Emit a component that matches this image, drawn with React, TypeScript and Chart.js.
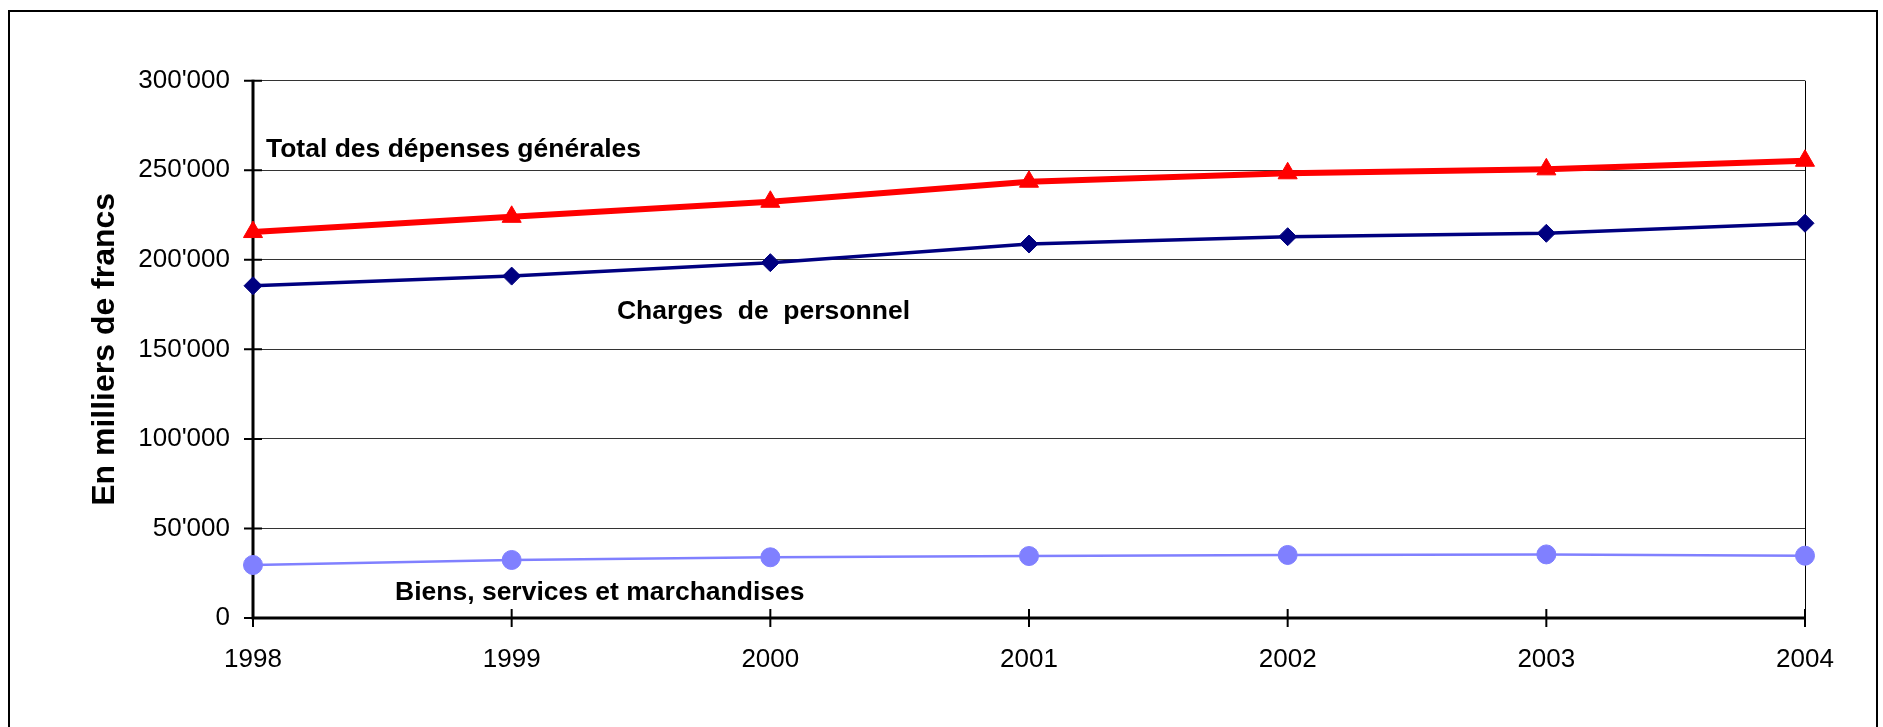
import React, { useEffect, useRef } from "react";
import { Chart, registerables } from "chart.js";

Chart.register(...registerables);

// ---- Data ----
const years = ["1998", "1999", "2000", "2001", "2002", "2003", "2004"];
const totalDepenses = [215500, 224000, 232400, 243600, 248300, 250500, 255300];
const chargesPersonnel = [185500, 190900, 198400, 208800, 212900, 214800, 220400];
const biensServices = [29600, 32400, 33900, 34600, 35200, 35500, 34800];
const yTickValues = [0, 50000, 100000, 150000, 200000, 250000, 300000];
const yAxisTitle = "En milliers de francs";
const seriesNames = ["Total des dépenses générales", "Charges  de  personnel", "Biens, services et marchandises"];
// anchors of the in-chart series labels, in data units (category index, value at baseline)
const labelAnchorX = [0.05, 1.407, 0.549];
const labelAnchorY = [257400, 166900, 10000];

const FONT = "'Liberation Sans', Arial, sans-serif";

const fmt = (v: number) => {
  const s = Math.round(v).toString();
  return s.replace(/\B(?=(\d{3})+(?!\d))/g, "'");
};

const decorPlugin = {
  id: "decor",
  beforeDraw(chart: any) {
    const { ctx } = chart;
    ctx.save();
    ctx.strokeStyle = "#000";
    ctx.lineWidth = 2;
    ctx.beginPath();
    ctx.moveTo(9, 800);
    ctx.lineTo(9, 11);
    ctx.lineTo(1877, 11);
    ctx.lineTo(1877, 800);
    ctx.stroke();
    ctx.restore();
  },
  beforeDatasetsDraw(chart: any) {
    const { ctx, chartArea: ca } = chart;
    const x = chart.scales.x;
    const y = chart.scales.y;
    ctx.save();
    ctx.strokeStyle = "#000";
    // right plot border
    ctx.lineWidth = 1;
    ctx.beginPath();
    ctx.moveTo(Math.round(ca.right) + 0.5, ca.top);
    ctx.lineTo(Math.round(ca.right) + 0.5, ca.bottom);
    ctx.stroke();
    // axes
    ctx.lineWidth = 3;
    ctx.beginPath();
    ctx.moveTo(ca.left, ca.top - 1);
    ctx.lineTo(ca.left, ca.bottom);
    ctx.lineTo(ca.right, ca.bottom);
    ctx.stroke();
    // cross ticks
    ctx.lineWidth = 2;
    ctx.beginPath();
    yTickValues.forEach((v) => {
      const py = y.getPixelForValue(v);
      ctx.moveTo(ca.left - 9, py);
      ctx.lineTo(ca.left + 9, py);
    });
    years.forEach((_, i) => {
      const px = x.getPixelForValue(i);
      ctx.moveTo(px, ca.bottom - 9);
      ctx.lineTo(px, ca.bottom + 9);
    });
    ctx.stroke();
    ctx.restore();
  },
  afterDatasetsDraw(chart: any) {
    const { ctx } = chart;
    const x = chart.scales.x;
    const y = chart.scales.y;
    ctx.save();
    ctx.fillStyle = "#000";
    ctx.font = `bold 26.5px ${FONT}`;
    ctx.textAlign = "left";
    ctx.textBaseline = "alphabetic";
    seriesNames.forEach((name, i) => {
      ctx.fillText(name, x.getPixelForValue(labelAnchorX[i]), y.getPixelForValue(labelAnchorY[i]));
    });
    ctx.restore();
  },
};

export default function App() {
  const ref = useRef<HTMLCanvasElement | null>(null);
  useEffect(() => {
    if (!ref.current) return;
    const chart = new Chart(ref.current, {
      type: "line",
      data: {
        labels: years,
        datasets: [
          {
            label: seriesNames[0],
            data: totalDepenses,
            borderColor: "#FF0000",
            backgroundColor: "#FF0000",
            borderWidth: 6,
            pointStyle: "triangle",
            pointRadius: 11,
            pointBorderWidth: 1,
            tension: 0,
            clip: false as any,
          },
          {
            label: seriesNames[1],
            data: chargesPersonnel,
            borderColor: "#000080",
            backgroundColor: "#000080",
            borderWidth: 3.5,
            pointStyle: "rectRot",
            pointRadius: 9,
            pointBorderWidth: 1,
            tension: 0,
            clip: false as any,
          },
          {
            label: seriesNames[2],
            data: biensServices,
            borderColor: "#8080FF",
            backgroundColor: "#8080FF",
            borderWidth: 2.5,
            pointStyle: "circle",
            pointRadius: 9.5,
            pointBorderWidth: 1,
            tension: 0,
            clip: false as any,
          },
        ],
      },
      options: {
        animation: false,
        responsive: false,
        layout: { padding: { left: 86.3, right: 78, top: 80.7, bottom: 0 } },
        plugins: { legend: { display: false }, tooltip: { enabled: false } },
        scales: {
          x: {
            offset: false,
            grid: { display: false, drawTicks: false },
            border: { display: false },
            ticks: {
              color: "#000",
              font: { family: FONT, size: 26 },
              padding: 26,
              maxRotation: 0,
              autoSkip: false,
            },
            afterFit: (s: any) => {
              s.height = 727 - 618;
            },
          },
          y: {
            min: 0,
            max: 300000,
            afterBuildTicks: (s: any) => {
              s.ticks = yTickValues.map((v) => ({ value: v }));
            },
            grid: { color: "#333", lineWidth: 1, drawTicks: false },
            border: { display: false },
            ticks: {
              color: "#000",
              font: { family: FONT, size: 26 },
              padding: 23,
              callback: (v: any) => fmt(Number(v)),
            },
            title: {
              display: true,
              text: yAxisTitle,
              color: "#000",
              font: { family: FONT, size: 32, weight: "bold" },
              padding: { top: 0, bottom: 0 },
            },
            afterFit: (s: any) => {
              s.width = 253 - 86.3;
            },
          },
        },
      },
      plugins: [decorPlugin],
    });
    return () => chart.destroy();
  }, []);
  return (
    <div style={{ position: "fixed", left: 0, top: 0, width: 1883, height: 727, background: "#fff" }}>
      <canvas ref={ref} width={1883} height={727} style={{ display: "block" }} />
    </div>
  );
}
